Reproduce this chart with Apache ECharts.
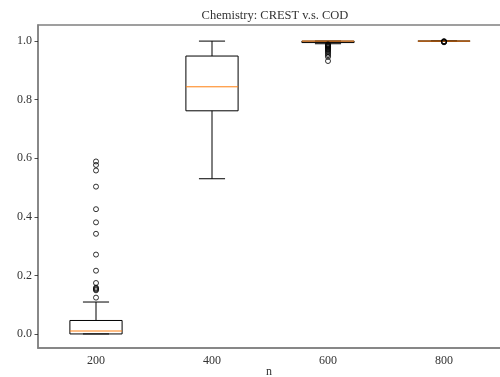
<!DOCTYPE html>
<html>
<head>
<meta charset="utf-8">
<script src="https://cdn.jsdelivr.net/npm/echarts@6/dist/echarts.min.js"></script>
<style>html,body{margin:0;padding:0;background:#fff}#chart{width:500px;height:377px}</style>
</head>
<body>
<div id="chart"></div>
<script>
// Sample sizes n on the x axis
const categories = ['200', '400', '600', '800'];
// Box statistics per n: [lower whisker, Q1, median, Q3, upper whisker]
const boxStats = [
  [0.0, 0.0, 0.010, 0.046, 0.109],
  [0.530, 0.762, 0.844, 0.949, 1.0],
  [0.991, 0.995, 1.0, 1.0, 1.0],
  [1.0, 1.0, 1.0, 1.0, 1.0]
];
// Outlier values per n
const outliers200 = [0.124, 0.149, 0.152, 0.155, 0.158, 0.174, 0.216, 0.271, 0.342, 0.381, 0.426, 0.503, 0.558, 0.577, 0.589];
const outliers400 = [];
const outliers600 = [0.932, 0.946, 0.952, 0.957, 0.962, 0.966, 0.970, 0.973, 0.976, 0.979, 0.981, 0.983, 0.985, 0.987, 0.989];
const outliers800 = [0.996, 0.997, 0.998, 0.999, 0.9995];
// Tick labels
const yTicks = [0.0, 0.2, 0.4, 0.6, 0.8, 1.0];
const xAxisTitle = 'n';

const outlierSets = [outliers200, outliers400, outliers600, outliers800];
const outlierPoints = [];
outlierSets.forEach((arr, i) => arr.forEach(v => outlierPoints.push([i, v])));

const FONT = '"Liberation Serif", "DejaVu Serif", serif';
const SPINE = '#808080';
const TEXT = '#333333';
const BOX_FRAC = 0.45;   // box width as a fraction of the category band

// Box, whiskers with half-width caps, and orange median line
function renderBox(params, api) {
  const i = api.value(0);
  const band = api.size([1, 0])[0];
  const half = band * BOX_FRAC / 2;
  const cap = half / 2;
  const p = k => api.coord([i, api.value(k)]);
  const lo = p(1), q1 = p(2), med = p(3), q3 = p(4), hi = p(5);
  const x = lo[0];
  const black = { stroke: '#000', lineWidth: 1, fill: null };
  return {
    type: 'group',
    children: [
      { type: 'line', shape: { x1: x, y1: lo[1], x2: x, y2: q1[1] }, style: black },
      { type: 'line', shape: { x1: x, y1: q3[1], x2: x, y2: hi[1] }, style: black },
      { type: 'line', shape: { x1: x - cap, y1: lo[1], x2: x + cap, y2: lo[1] }, style: black },
      { type: 'line', shape: { x1: x - cap, y1: hi[1], x2: x + cap, y2: hi[1] }, style: black },
      { type: 'rect', shape: { x: x - half, y: q3[1], width: 2 * half, height: q1[1] - q3[1] },
        style: { stroke: '#000', lineWidth: 1, fill: 'rgba(255,255,255,0)' } },
      { type: 'line', shape: { x1: x - half, y1: med[1], x2: x + half, y2: med[1] },
        style: { stroke: '#ff7f0e', lineWidth: 1 }, z2: 5 }
    ]
  };
}

const chart = echarts.init(document.getElementById('chart'), null, { renderer: 'canvas' });
chart.setOption({
  animation: false,
  title: {
    text: 'Chemistry: CREST v.s. COD',
    left: 270, textAlign: 'center', top: 4,
    textStyle: { fontFamily: FONT, fontSize: 12.5, fontWeight: 'normal', color: TEXT }
  },
  // x-axis title, sitting just below the tick labels at the bottom edge
  graphic: [{
    type: 'text', left: 266, top: 366, silent: true,
    style: { text: xAxisTitle, font: '12px ' + FONT, fill: TEXT }
  }],
  grid: {
    left: 38, right: -2, top: 25, bottom: 29,
    outerBoundsMode: 'none', containLabel: false,
    show: true, borderColor: SPINE, borderWidth: 1.5, backgroundColor: 'transparent'
  },
  xAxis: {
    type: 'category', data: categories, boundaryGap: true,
    axisLine: { onZero: false, lineStyle: { color: SPINE, width: 1.5 } },
    axisTick: { alignWithLabel: true, length: 3.5, lineStyle: { color: '#222', width: 0.8 } },
    axisLabel: { fontFamily: FONT, fontSize: 12, color: TEXT, margin: 7 },
    splitLine: { show: false }
  },
  yAxis: {
    type: 'value', min: -0.048, max: 1.055,
    axisLine: { show: true, onZero: false, lineStyle: { color: SPINE, width: 1.5 } },
    axisTick: { show: true, length: 3.5, customValues: yTicks, lineStyle: { color: '#222', width: 0.8 } },
    axisLabel: {
      customValues: yTicks, fontFamily: FONT, fontSize: 12, color: TEXT, margin: 6,
      formatter: v => v.toFixed(1)
    },
    splitLine: { show: false }
  },
  series: [
    {
      type: 'custom',
      data: boxStats.map((s, i) => [i].concat(s)),
      encode: { x: 0, y: [1, 2, 3, 4, 5] },
      renderItem: renderBox,
      z: 2
    },
    {
      type: 'scatter',
      data: outlierPoints,
      symbol: 'circle',
      symbolSize: 5,
      itemStyle: { color: 'rgba(255,255,255,0)', borderColor: '#000', borderWidth: 1 },
      z: 3
    }
  ]
});
</script>
</body>
</html>
